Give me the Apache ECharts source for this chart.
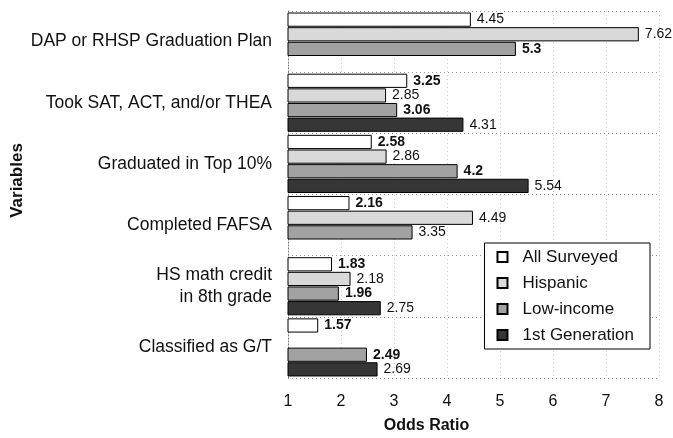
<!doctype html>
<html>
    <head>
        <meta charset="utf-8">
        <style>
            html, body { margin: 0; padding: 0; background: #fff; }
            #main { width: 673px; height: 438px; }
        </style>
    </head>
    <body>
        <div id="main"></div>
        <script src="https://cdn.jsdelivr.net/npm/echarts@6/dist/echarts.min.js"></script>
        <script>
            var categories = ['DAP or RHSP Graduation Plan', 'Took SAT, ACT, and/or THEA', 'Graduated in Top 10%',
                'Completed FAFSA', 'HS math credit\nin 8th grade', 'Classified as G/T'];
            var seriesNames = ['All Surveyed', 'Hispanic', 'Low-income', '1st Generation'];

            // one value per category, null where the bar is missing
            var allSurveyed = [4.45, 3.25, 2.58, 2.16, 1.83, 1.57];
            var hispanic = [7.62, 2.85, 2.86, 4.49, 2.18, null];
            var lowIncome = [5.3, 3.06, 4.2, 3.35, 1.96, 2.49];
            var firstGen = [null, 4.31, 5.54, null, 2.75, 2.69];

            // labels printed in bold
            var boldAll = [false, true, true, true, true, true];
            var boldHispanic = [false, false, false, false, false, false];
            var boldLow = [true, true, true, false, true, true];
            var boldFirst = [false, false, false, false, false, false];

            var xTicks = [1, 2, 3, 4, 5, 6, 7, 8];

            var values = [allSurveyed, hispanic, lowIncome, firstGen];
            var bolds = [boldAll, boldHispanic, boldLow, boldFirst];
            var colors = ['#ffffff', '#d9d9d9', '#a2a2a2', '#363636'];

            var chart = echarts.init(document.getElementById('main'));

            var series = seriesNames.map(function (name, s) {
                return {
                    name: name,
                    type: 'bar',
                    barGap: '3%',
                    barCategoryGap: '5%',
                    itemStyle: { color: colors[s], borderColor: '#000', borderWidth: 1 },
                    label: {
                        show: true,
                        position: 'right',
                        distance: 6,
                        color: '#111',
                        fontSize: 14,
                        fontFamily: 'Liberation Sans'
                    },
                    data: values[s].map(function (v, i) {
                        return {
                            value: v,
                            label: { fontWeight: bolds[s][i] ? 'bold' : 'normal' }
                        };
                    })
                };
            });

            chart.setOption({
                animation: false,
                textStyle: { fontFamily: 'Liberation Sans' },
                grid: { left: 288, right: 14, top: 11, bottom: 60, containLabel: false, outerBoundsMode: 'none' },
                legend: {
                    data: seriesNames,
                    orient: 'vertical',
                    right: 23,
                    top: 243,
                    icon: 'rect',
                    itemWidth: 10,
                    itemHeight: 10,
                    itemGap: 8,
                    padding: [5, 16, 5, 12],
                    borderColor: '#000',
                    borderWidth: 1,
                    backgroundColor: '#fff',
                    textStyle: { fontSize: 17, lineHeight: 18, color: '#111', padding: [0, 0, 0, 10] }
                },
                xAxis: {
                    type: 'value',
                    min: xTicks[0],
                    max: xTicks[xTicks.length - 1],
                    interval: 1,
                    name: 'Odds Ratio',
                    nameLocation: 'middle',
                    nameGap: 40,
                    nameMoveOverlap: false,
                    nameTextStyle: { fontSize: 16, fontWeight: 'bold', color: '#111', padding: [0, 94, 0, 0] },
                    axisLine: { show: false },
                    axisTick: { show: false },
                    axisLabel: { fontSize: 16, color: '#111', margin: 16 },
                    splitLine: { lineStyle: { color: '#c8c8c8', type: [1, 3] } }
                },
                yAxis: {
                    type: 'category',
                    inverse: true,
                    data: categories,
                    name: 'Variables',
                    nameLocation: 'middle',
                    nameGap: 262,
                    nameRotate: 90,
                    nameMoveOverlap: false,
                    nameTextStyle: { fontSize: 17, fontWeight: 'bold', color: '#111', padding: [0, 0, 0, 28] },
                    axisLine: { lineStyle: { color: '#777', type: [1, 2] } },
                    axisTick: { show: false },
                    axisLabel: { fontSize: 17.5, color: '#111', margin: 16, lineHeight: 22 },
                    splitLine: { show: true, lineStyle: { color: '#999', type: [1, 3] } }
                },
                series: series
            });

            window.onresize = chart.resize;
        </script>
    </body>
</html>
